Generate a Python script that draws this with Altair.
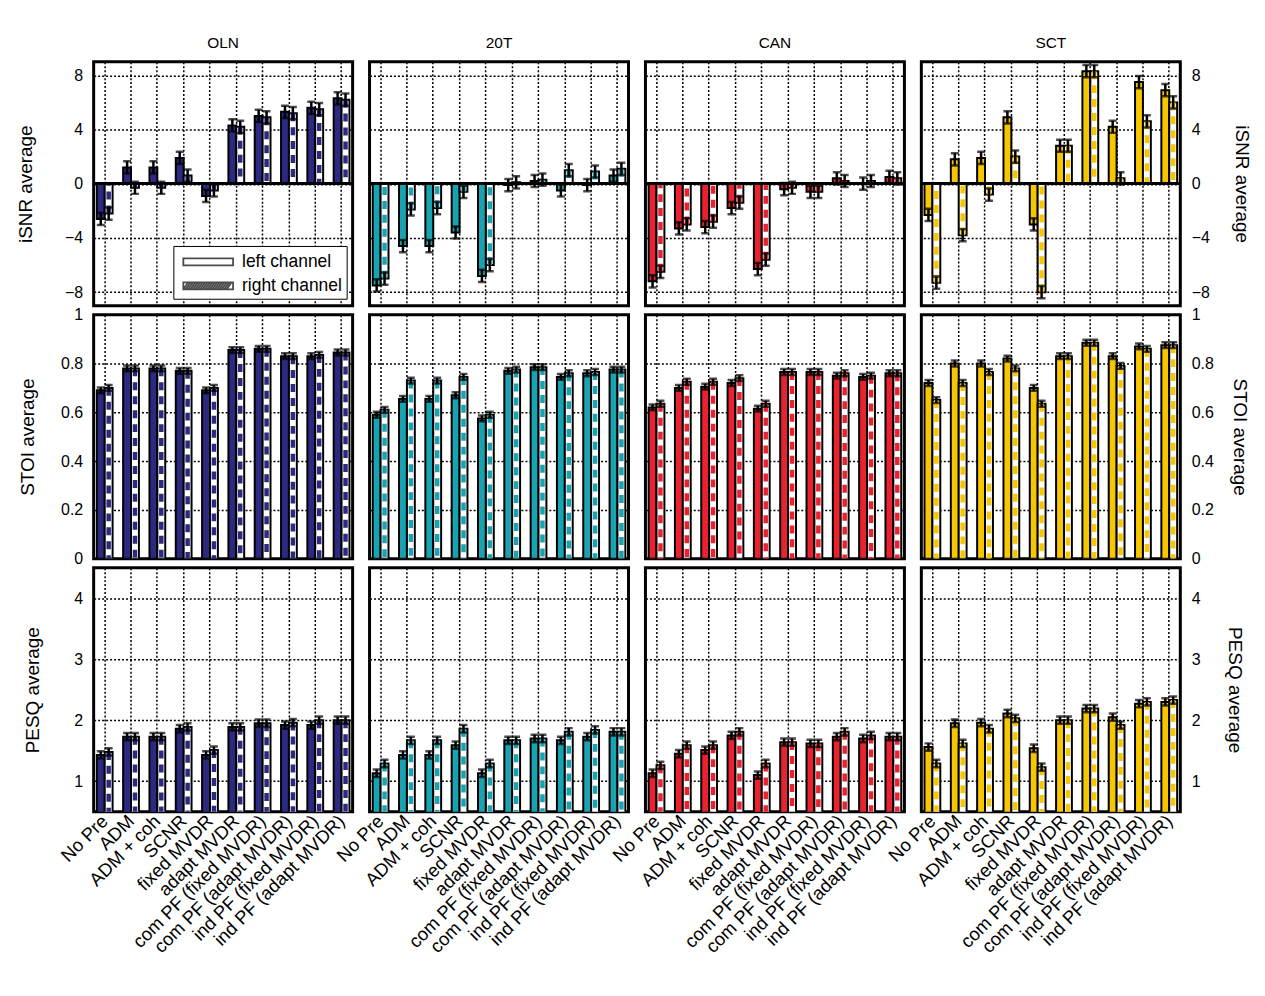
import altair as alt
import pandas as pd

METHODS = ["No Pre", "ADM", "ADM + coh", "SCNR", "fixed MVDR", "adapt MVDR",
           "com PF (fixed MVDR)", "com PF (adapt MVDR)", "ind PF (fixed MVDR)",
           "ind PF (adapt MVDR)"]
CONDITIONS = ["OLN", "20T", "CAN", "SCT"]
COND_COLORS = ["#2c2a80", "#19a3b0", "#e8232f", "#f6c700"]
CHANNELS = ["left", "right"]
LEGEND_LABELS = ["left channel", "right channel"]
METRIC_NAMES = ["iSNR", "STOI", "PESQ"]
Y_DOMAINS = [[-9, 9], [0, 1], [0.5, 4.5]]
Y_TICKS = [[-8, -4, 0, 4, 8], [0, 0.2, 0.4, 0.6, 0.8, 1], [1, 2, 3, 4]]
ERR = [0.45, 0.012, 0.06]
TITLE_PAD_LEFT = [29, 23, 31]
TITLE_PAD_RIGHT = [22, 16, 24]

# iSNR average
isnr_oln_left = [-2.6, 1.2, 1.2, 1.9, -0.9, 4.3, 5.0, 5.3, 5.6, 6.3]
isnr_oln_right = [-2.2, -0.3, -0.3, 0.6, -0.5, 4.2, 4.9, 5.2, 5.5, 6.2]
isnr_20t_left = [-7.5, -4.6, -4.6, -3.6, -6.8, -0.1, 0.2, -0.5, -0.1, 0.6]
isnr_20t_right = [-7.0, -1.9, -1.8, -0.6, -6.0, 0.1, 0.3, 1.0, 0.9, 1.1]
isnr_can_left = [-7.2, -3.3, -3.2, -1.8, -6.3, -0.4, -0.6, 0.4, 0.0, 0.5]
isnr_can_right = [-6.5, -3.0, -2.8, -1.4, -5.6, -0.3, -0.6, 0.2, 0.2, 0.4]
isnr_sct_left = [-2.3, 1.8, 1.9, 4.9, -3.0, 2.8, 8.3, 4.2, 7.5, 6.9]
isnr_sct_right = [-7.3, -3.8, -0.8, 2.0, -8.0, 2.8, 8.3, 0.4, 4.6, 6.0]

# STOI average
stoi_oln_left = [0.69, 0.78, 0.78, 0.77, 0.69, 0.855, 0.86, 0.83, 0.83, 0.845]
stoi_oln_right = [0.70, 0.78, 0.78, 0.77, 0.70, 0.855, 0.86, 0.83, 0.835, 0.845]
stoi_20t_left = [0.59, 0.655, 0.655, 0.67, 0.575, 0.77, 0.785, 0.745, 0.76, 0.775]
stoi_20t_right = [0.61, 0.73, 0.73, 0.745, 0.59, 0.775, 0.785, 0.76, 0.765, 0.775]
stoi_can_left = [0.62, 0.70, 0.705, 0.72, 0.615, 0.765, 0.765, 0.75, 0.745, 0.76]
stoi_can_right = [0.635, 0.725, 0.725, 0.74, 0.635, 0.765, 0.765, 0.76, 0.75, 0.76]
stoi_sct_left = [0.72, 0.80, 0.80, 0.82, 0.70, 0.83, 0.885, 0.83, 0.87, 0.875]
stoi_sct_right = [0.65, 0.72, 0.765, 0.78, 0.635, 0.83, 0.885, 0.79, 0.86, 0.875]

# PESQ average
pesq_oln_left = [1.43, 1.73, 1.73, 1.86, 1.43, 1.89, 1.95, 1.92, 1.92, 2.0]
pesq_oln_right = [1.48, 1.73, 1.73, 1.89, 1.51, 1.89, 1.95, 1.96, 2.0, 2.0]
pesq_20t_left = [1.13, 1.43, 1.43, 1.59, 1.13, 1.67, 1.70, 1.67, 1.73, 1.81]
pesq_20t_right = [1.29, 1.67, 1.67, 1.86, 1.29, 1.67, 1.70, 1.81, 1.84, 1.81]
pesq_can_left = [1.13, 1.45, 1.51, 1.75, 1.10, 1.64, 1.62, 1.73, 1.70, 1.73]
pesq_can_right = [1.26, 1.59, 1.59, 1.81, 1.29, 1.64, 1.62, 1.81, 1.75, 1.73]
pesq_sct_left = [1.56, 1.95, 1.96, 2.11, 1.54, 2.0, 2.19, 2.05, 2.27, 2.30]
pesq_sct_right = [1.29, 1.62, 1.86, 2.03, 1.23, 2.0, 2.19, 1.92, 2.30, 2.33]

VALUES = {
    ("iSNR", "OLN"): (isnr_oln_left, isnr_oln_right),
    ("iSNR", "20T"): (isnr_20t_left, isnr_20t_right),
    ("iSNR", "CAN"): (isnr_can_left, isnr_can_right),
    ("iSNR", "SCT"): (isnr_sct_left, isnr_sct_right),
    ("STOI", "OLN"): (stoi_oln_left, stoi_oln_right),
    ("STOI", "20T"): (stoi_20t_left, stoi_20t_right),
    ("STOI", "CAN"): (stoi_can_left, stoi_can_right),
    ("STOI", "SCT"): (stoi_sct_left, stoi_sct_right),
    ("PESQ", "OLN"): (pesq_oln_left, pesq_oln_right),
    ("PESQ", "20T"): (pesq_20t_left, pesq_20t_right),
    ("PESQ", "CAN"): (pesq_can_left, pesq_can_right),
    ("PESQ", "SCT"): (pesq_sct_left, pesq_sct_right),
}

FONT = "Liberation Sans"
GRID = dict(grid=True, gridColor="black", gridDash=[2, 2], gridWidth=1.5, gridOpacity=1)

# legend symbols (wide rectangle, hatched rectangle)
SW, SH = 2.27, 0.32
RECT_PATH = f"M{-SW},{-SH}L{SW},{-SH}L{SW},{SH}L{-SW},{SH}Z"
hatch_parts = [RECT_PATH]
xs0 = -SW
while xs0 + 0.45 <= SW + 1e-9:
    hatch_parts.append(f"M{xs0:.2f},{SH}L{xs0 + 0.45:.2f},{-SH}")
    xs0 += 0.22
HATCH_PATH = "".join(hatch_parts)


def make_panel(r, c):
    metric = METRIC_NAMES[r]
    cond = CONDITIONS[c]
    color = COND_COLORS[c]
    left, right = VALUES[(metric, cond)]
    rows = []
    for m, lv, rv in zip(METHODS, left, right):
        rows.append(dict(method=m, channel="left", value=lv))
        rows.append(dict(method=m, channel="right", value=rv))
    df = pd.DataFrame(rows)
    df["lo"] = df["value"] - ERR[r]
    df["hi"] = df["value"] + ERR[r]

    if r == 2:
        xaxis = alt.Axis(labelAngle=315, labelAlign="right", labelBaseline="middle",
                         labelFontSize=18.5, labelPadding=6, labelColor="black",
                         labelFont=FONT, labelLimit=400, ticks=False, domain=False,
                         bandPosition=0.5, labelOverlap=False, title=None, **GRID)
    else:
        xaxis = alt.Axis(labels=False, ticks=False, domain=False, bandPosition=0.5,
                         title=None, **GRID)

    yk = dict(values=Y_TICKS[r], format="~g", ticks=False, domain=False,
              labelFontSize=16, labelColor="black", labelFont=FONT, **GRID)
    ytitle = f"{metric} average"
    if c in (0, 3):
        yaxis = alt.Axis(orient="left" if c == 0 else "right", title=ytitle,
                         titleFontSize=19, titleFontWeight="normal", titleFont=FONT,
                         titleColor="black",
                         titlePadding=TITLE_PAD_LEFT[r] if c == 0 else TITLE_PAD_RIGHT[r],
                         labelPadding=11, **yk)
    else:
        ytitle = None
        yaxis = alt.Axis(labels=False, title=None, **yk)

    xscale = alt.Scale(domain=METHODS, paddingInner=0.4, paddingOuter=0.12)
    yscale = alt.Scale(domain=Y_DOMAINS[r], nice=False)

    def X():
        return alt.X("method:N", sort=METHODS, scale=xscale, axis=xaxis, title=None)

    def Y(f):
        return alt.Y(f"{f}:Q", scale=yscale, axis=yaxis, title=ytitle)

    XO = alt.XOffset("channel:N", sort=CHANNELS,
                     scale=alt.Scale(domain=CHANNELS, paddingInner=0, paddingOuter=0))

    base = alt.Chart(df)
    lf = base.transform_filter("datum.channel == 'left'")
    rf = base.transform_filter("datum.channel == 'right'")

    layers = [
        lf.mark_bar(fill=color, stroke="black", strokeWidth=2, clip=True).encode(
            x=X(), xOffset=XO, y=Y("value"), y2=alt.Y2Datum(0)),
        rf.mark_bar(fill="white", stroke="black", strokeWidth=2, clip=True).encode(
            x=X(), xOffset=XO, y=Y("value"), y2=alt.Y2Datum(0)),
        rf.mark_rule(color=color, strokeWidth=4.5, strokeDash=[8, 6], strokeCap="butt",
                     clip=True).encode(
            x=X(), xOffset=XO, y=Y("value"), y2=alt.Y2Datum(0)),
    ]
    if r == 0:
        layers.append(base.mark_rule(color="black", strokeWidth=2).encode(
            y=alt.YDatum(0, scale=yscale, axis=yaxis, title=ytitle)))
    layers += [
        base.mark_rule(color="black", strokeWidth=2.5, clip=True).encode(
            x=X(), xOffset=XO, y=Y("lo"), y2=alt.Y2("hi:Q")),
        base.mark_tick(color="black", thickness=2.5, size=8, clip=True).encode(
            x=X(), xOffset=XO, y=Y("lo")),
        base.mark_tick(color="black", thickness=2.5, size=8, clip=True).encode(
            x=X(), xOffset=XO, y=Y("hi")),
    ]
    if r == 0 and c == 0:
        layers.append(
            base.transform_filter("false").mark_point(
                filled=False, color="black", stroke="black", strokeWidth=1.8, size=484
            ).encode(
                shape=alt.Shape(
                    "legend_label:N",
                    scale=alt.Scale(domain=LEGEND_LABELS, range=[RECT_PATH, HATCH_PATH]),
                    legend=alt.Legend(
                        title=None, orient="none", legendX=80, legendY=185,
                        fillColor="white", strokeColor="black", padding=4,
                        labelFontSize=17.5, labelFont=FONT, labelColor="black",
                        symbolSize=484, symbolStrokeColor="black",
                        symbolStrokeWidth=1.8, symbolOffset=19, labelOffset=22,
                        rowPadding=3,
                    ),
                )
            )
        )

    props = dict(width=260, height=245)
    if r == 0:
        props["title"] = alt.TitleParams(text=cond, fontSize=15.5, fontWeight="normal",
                                         offset=10, frame="group", anchor="middle",
                                         font=FONT, color="black")
    return alt.layer(*layers).properties(**props)


panels = [make_panel(r, c) for r in range(3) for c in range(4)]

chart = (
    alt.concat(*panels, columns=4, spacing={"row": 9, "column": 17}, bounds="flush")
    .resolve_scale(x="independent", y="independent", shape="independent")
    .resolve_legend(shape="independent")
    .properties(padding={"left": 7, "top": 25, "right": 5, "bottom": 5}, background="white")
    .configure(font=FONT)
    .configure_view(stroke="black", strokeWidth=3, fill="white")
)

chart.save("out.html", embed_options={"renderer": "svg", "actions": False})
